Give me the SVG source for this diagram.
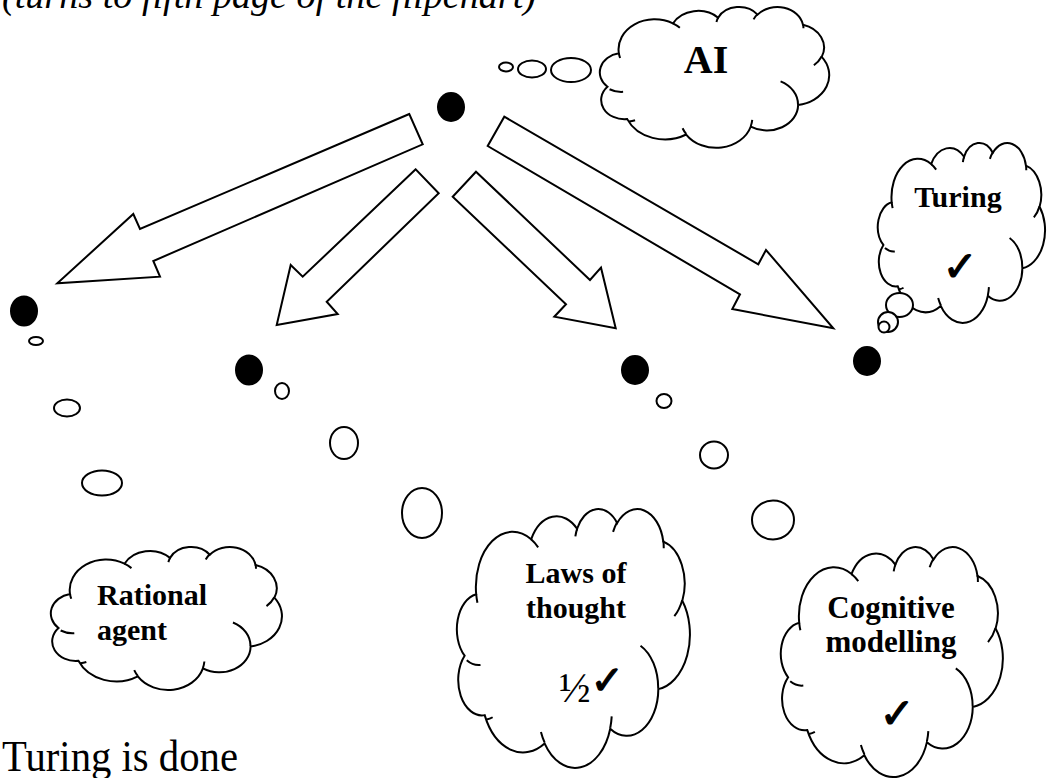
<svg xmlns="http://www.w3.org/2000/svg" width="1047" height="778" viewBox="0 0 1047 778">
<style>
.ol{fill:#fff;stroke:#000;stroke-width:2;stroke-linejoin:miter}
.cl{fill:#fff;stroke:#000;stroke-width:2}
.st{fill:none;stroke:#000;stroke-width:2}
.dot{fill:#000}
.lbl{font-family:"Liberation Serif",serif;font-weight:bold;fill:#000}
.chk{font-family:"DejaVu Sans",sans-serif;fill:#000;stroke:#000;stroke-width:1.2}
</style>
<defs>
<g id="cloud">
<path class="cl" vector-effect="non-scaling-stroke" d="M39 143.7 A67.53 91.9 0 0 1 140.05 52.03 A53.33 72.67 0 0 1 224.55 34.35 A43.65 59.45 0 0 1 298.32 24.83 A48.57 65.95 0 0 1 383.17 55.78 A53.33 72.73 0 0 1 418.17 154.62 A67.75 92.2 0 0 1 374.03 302.05 A57.85 78.67 0 0 1 285.55 368.15 A67.52 92.15 0 0 1 164.79 392.67 A77.2 105.43 0 0 1 54.58 345.45 A43.6 59.18 0 0 1 17.67 246.23 A43.45 59.45 0 0 1 39 143.7 Z"/>
<path class="st" vector-effect="non-scaling-stroke" d="M46.93 261.77 A43.45 59.45 0 0 1 21.6 253.8 M69.28 348.99 A43.6 59.18 0 0 1 58.19 352.81 M164.78 390.9 A67.52 92.15 0 0 1 158.1 373.48 M288.27 347.51 A67.52 92.15 0 0 1 285.6 366.6 M341.29 229.54 A57.85 78.67 0 0 1 373.81 300.9 M417.98 153.54 A53.33 72.73 0 0 1 403.5 180.3 M383.24 54.26 A48.57 65.95 0 0 1 384 66.9 M290.78 39.52 A48.57 65.95 0 0 1 298.2 23.39 M221.41 47.2 A43.65 59.45 0 0 1 225 33.31 M140 51.92 A67.53 91.9 0 0 1 152.99 65.39 M41.27 157.89 A67.53 91.9 0 0 1 39 143.7"/>
</g>
</defs>

<text x="2" y="8" font-family="Liberation Serif, serif" font-style="italic" font-size="38" textLength="534" lengthAdjust="spacingAndGlyphs">(turns to fifth page of the flipchart)</text>

<g id="connectors">
<polygon class="ol" points="409.3,114 140,229 133.3,214 57.3,283.3 160,276.7 153.3,261 422.7,144.3"/>
<polygon class="ol" points="415.7,169.3 302.7,276.7 290.7,265 276.7,325 337.7,314 326.7,301.7 438.7,193.3"/>
<polygon class="ol" points="476,171.7 590,280 601,267.7 615.7,328.3 554.3,316.7 566,304.3 452.7,196.7"/>
<polygon class="ol" points="504.3,116.7 758.3,264.3 766,250 833.3,328.3 732.3,309 740,294.3 487.7,146"/>
</g>

<g id="node-root">
<ellipse class="dot" cx="451" cy="107" rx="14" ry="15"/>
</g>

<g id="node-ai">
<ellipse class="ol" cx="506" cy="67" rx="7" ry="4.5"/>
<ellipse class="ol" cx="532" cy="69" rx="14" ry="8.5"/>
<ellipse class="ol" cx="571" cy="70" rx="20" ry="12"/>
<use href="#cloud" transform="translate(598,6.5) scale(0.535,0.326)"/>
<text class="lbl" x="706" y="73" font-size="40" text-anchor="middle">AI</text>
</g>

<g id="node-turing">
<ellipse class="dot" cx="867" cy="361" rx="14" ry="15"/>
<use href="#cloud" transform="translate(876.5,142.4) scale(0.39,0.4165)"/>
<ellipse class="ol" cx="899.5" cy="305" rx="13.5" ry="12"/>
<ellipse class="ol" cx="888" cy="322" rx="10" ry="10"/>
<ellipse class="ol" cx="884" cy="327" rx="5.5" ry="5.5"/>
<text class="lbl" x="958" y="207" font-size="30" text-anchor="middle">Turing</text>
<text class="chk" x="960" y="281" font-size="42" text-anchor="middle">✓</text>
</g>

<g id="node-rational">
<ellipse class="dot" cx="24" cy="311" rx="14" ry="15.5"/>
<ellipse class="ol" cx="36" cy="341" rx="7" ry="4"/>
<ellipse class="ol" cx="67" cy="408" rx="13" ry="8.5"/>
<ellipse class="ol" cx="102" cy="483" rx="20" ry="12.5"/>
<use href="#cloud" transform="translate(49,546.5) scale(0.539,0.331)"/>
<text class="lbl" x="97" y="605" font-size="30">Rational</text>
<text class="lbl" x="97" y="640" font-size="30">agent</text>
</g>

<g id="node-laws">
<ellipse class="dot" cx="249" cy="370" rx="14" ry="15.5"/>
<ellipse class="ol" cx="282" cy="391" rx="7" ry="8"/>
<ellipse class="ol" cx="344" cy="443" rx="14" ry="16"/>
<ellipse class="ol" cx="422" cy="513" rx="20" ry="25"/>
<use href="#cloud" transform="translate(455,508.2) scale(0.5436,0.599)"/>
<text class="lbl" x="576" y="583" font-size="30" text-anchor="middle">Laws of</text>
<text class="lbl" x="576" y="618" font-size="30" text-anchor="middle">thought</text>
<text x="559" y="702" font-family="Liberation Serif, serif" font-size="42">½<tspan class="chk" font-size="40" dy="-8">✓</tspan></text>
</g>

<g id="node-cognitive">
<ellipse class="dot" cx="635" cy="370" rx="14" ry="15"/>
<ellipse class="ol" cx="664" cy="401" rx="7.5" ry="7"/>
<ellipse class="ol" cx="714" cy="455" rx="14" ry="13.5"/>
<ellipse class="ol" cx="773" cy="520" rx="21" ry="19.5"/>
<use href="#cloud" transform="translate(779,546.3) scale(0.518,0.532)"/>
<text class="lbl" x="891" y="618" font-size="31" text-anchor="middle">Cognitive</text>
<text class="lbl" x="891" y="652" font-size="31" text-anchor="middle">modelling</text>
<text class="chk" x="897" y="728" font-size="42" text-anchor="middle">✓</text>
</g>

<text x="2" y="771" font-family="Liberation Serif, serif" font-size="44" textLength="236" lengthAdjust="spacingAndGlyphs">Turing is done</text>
</svg>
